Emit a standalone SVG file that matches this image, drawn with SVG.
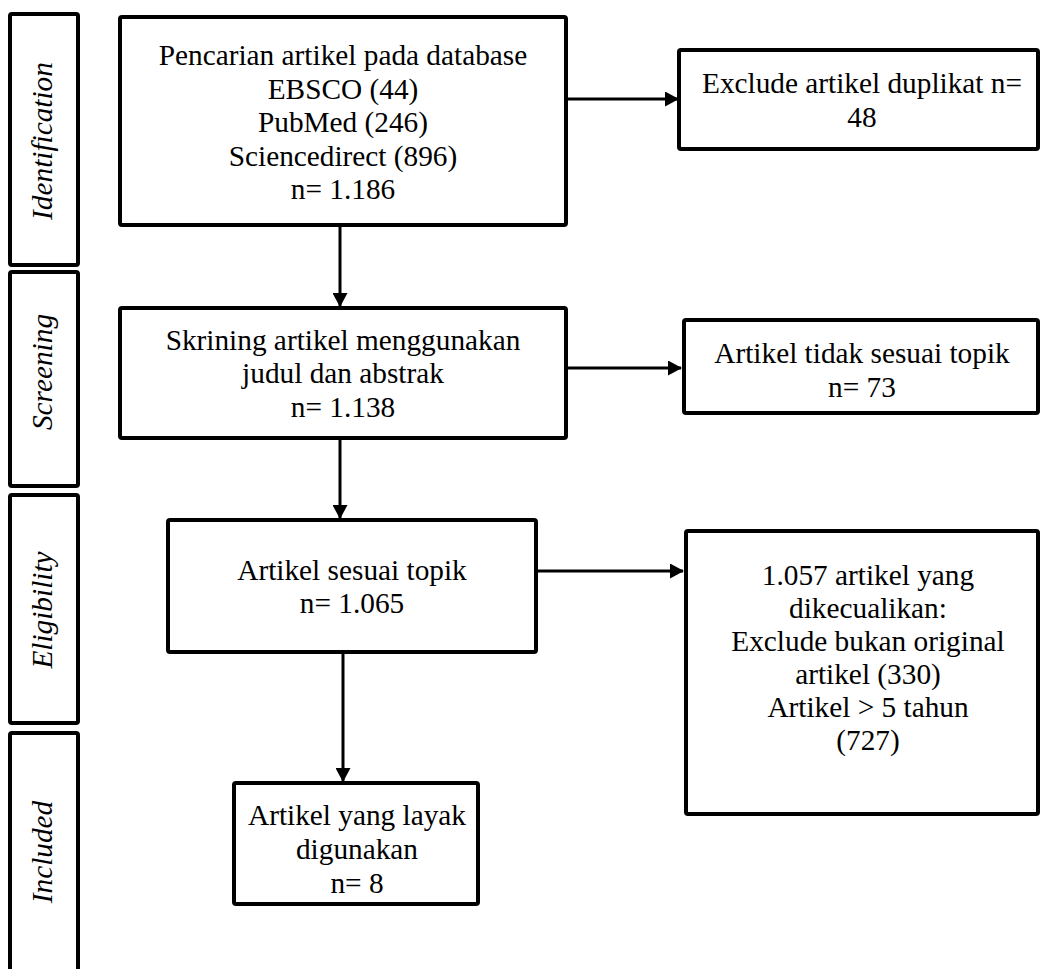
<svg xmlns="http://www.w3.org/2000/svg" width="1042" height="969" viewBox="0 0 1042 969" font-family="'Liberation Serif', 'Times New Roman', serif">
<style>
.bx{fill:#fff;stroke:#000;stroke-width:4}
.t{font-size:29.3px;fill:#000;text-anchor:middle}
.st{font-size:29.3px;font-style:italic;fill:#000;text-anchor:middle}
.ln{stroke:#000;stroke-width:3;fill:none}
</style>
<defs>
<marker id="ah" viewBox="0 0 14 15" refX="13" refY="7.5" markerWidth="14" markerHeight="15" markerUnits="userSpaceOnUse" orient="auto">
<path d="M0,0 L14,7.5 L0,15 Z" fill="#000"/>
</marker>
</defs>
<rect width="1042" height="969" fill="#fff"/>
<g id="stage-identification">
<rect class="bx" x="10" y="14" width="68" height="251" rx="2"/>
<text class="st" transform="translate(52,141) rotate(-90)">Identification</text>
</g>
<g id="stage-screening">
<rect class="bx" x="10" y="272" width="68" height="214" rx="2"/>
<text class="st" transform="translate(52,372) rotate(-90)">Screening</text>
</g>
<g id="stage-eligibility">
<rect class="bx" x="10" y="495" width="68" height="228" rx="2"/>
<text class="st" transform="translate(52,610) rotate(-90)">Eligibility</text>
</g>
<g id="stage-included">
<rect class="bx" x="10" y="733" width="68" height="260" rx="2"/>
<text class="st" transform="translate(52,852) rotate(-90)">Included</text>
</g>
<g id="connectors">
<line class="ln" x1="340" y1="227" x2="340" y2="306" marker-end="url(#ah)"/>
<line class="ln" x1="340" y1="440" x2="340" y2="518" marker-end="url(#ah)"/>
<line class="ln" x1="343" y1="654" x2="343" y2="781" marker-end="url(#ah)"/>
<line class="ln" x1="568" y1="99" x2="678" y2="99" marker-end="url(#ah)"/>
<line class="ln" x1="568" y1="368" x2="681" y2="368" marker-end="url(#ah)"/>
<line class="ln" x1="538" y1="571" x2="683" y2="571" marker-end="url(#ah)"/>
</g>
<g id="node-search">
<rect class="bx" x="120" y="17" width="446" height="208" rx="2"/>
<text class="t" x="343" y="65">Pencarian artikel pada database</text>
<text class="t" x="343" y="99">EBSCO (44)</text>
<text class="t" x="343" y="132">PubMed (246)</text>
<text class="t" x="343" y="166">Sciencedirect (896)</text>
<text class="t" x="343" y="199">n= 1.186</text>
</g>
<g id="node-duplicates">
<rect class="bx" x="679" y="50" width="359" height="99" rx="2"/>
<text class="t" x="862" y="93">Exclude artikel duplikat n=</text>
<text class="t" x="862" y="127">48</text>
</g>
<g id="node-screening">
<rect class="bx" x="120" y="308" width="446" height="130" rx="2"/>
<text class="t" x="343" y="350">Skrining artikel menggunakan</text>
<text class="t" x="343" y="383">judul dan abstrak</text>
<text class="t" x="343" y="417">n= 1.138</text>
</g>
<g id="node-offtopic">
<rect class="bx" x="684" y="320" width="354" height="93" rx="2"/>
<text class="t" x="862" y="363">Artikel tidak sesuai topik</text>
<text class="t" x="862" y="397">n= 73</text>
</g>
<g id="node-eligible">
<rect class="bx" x="168" y="520" width="368" height="132" rx="2"/>
<text class="t" x="352" y="580">Artikel sesuai topik</text>
<text class="t" x="352" y="613">n= 1.065</text>
</g>
<g id="node-excluded">
<rect class="bx" x="686" y="531" width="352" height="283" rx="2"/>
<text class="t" x="868" y="585">1.057 artikel yang</text>
<text class="t" x="868" y="618">dikecualikan:</text>
<text class="t" x="868" y="651">Exclude bukan original</text>
<text class="t" x="868" y="684">artikel (330)</text>
<text class="t" x="868" y="717">Artikel &gt; 5 tahun</text>
<text class="t" x="868" y="750">(727)</text>
</g>
<g id="node-included">
<rect class="bx" x="234" y="783" width="244" height="121" rx="2"/>
<text class="t" x="357" y="825">Artikel yang layak</text>
<text class="t" x="357" y="859">digunakan</text>
<text class="t" x="357" y="893">n= 8</text>
</g>
</svg>
